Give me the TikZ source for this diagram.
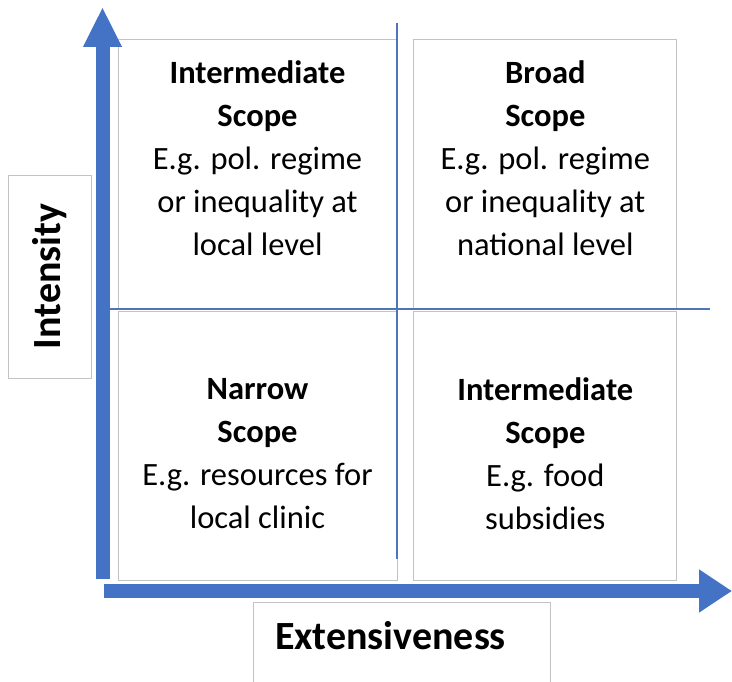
\documentclass[tikz,border=0pt]{standalone}
\usepackage{fontspec}
\setmainfont{Carlito}
\usetikzlibrary{arrows.meta,positioning}
\definecolor{axisblue}{HTML}{4472C4}
\definecolor{boxgray}{HTML}{C3C3C3}
\tikzset{
	auto,node distance =3pt and 16pt,semithick,
}

\begin{document}
\begin{tikzpicture}[
	x=1pt, y=-1pt,
	quad/.style={draw=boxgray, line width=0.8pt, inner sep=0pt, minimum height=269pt},
	scopetext/.style={align=center, font=\fontsize{32.5}{43}\selectfont},
	axislabel/.style={draw=boxgray, line width=0.8pt, inner sep=0pt, font=\fontsize{40}{48}\selectfont\bfseries},
	axis/.style={draw=axisblue, line width=14pt},
	cross/.style={draw=axisblue!80!gray, line width=1.2pt},
	]
	\useasboundingbox (0,0) rectangle (732,682);

	%quadrants
	\node[quad, minimum width=279pt] (1) at (257.5,173.5) {};
	\node[quad, minimum width=263pt] (2) [right = of 1] {};
	\node[quad, minimum width=279pt] (3) [below = of 1] {};
	\node[quad, minimum width=263pt] (4) [right = of 3] {};

	%scope texts
	\node[scopetext] (5) at ([yshift=15pt]1.center) {\textbf{Intermediate}\\\textbf{Scope}\\E.g. pol. regime\\or inequality at\\local level};
	\node[scopetext] (6) at ([yshift=15pt]2.center) {\textbf{Broad}\\\textbf{Scope}\\E.g. pol. regime\\or inequality at\\national level};
	\node[scopetext] (7) at ([yshift=-7pt]3.center) {\textbf{Narrow}\\\textbf{Scope}\\E.g. resources for\\local clinic};
	\node[scopetext] (8) at ([yshift=-7pt]4.center) {\textbf{Intermediate}\\\textbf{Scope}\\E.g. food\\subsidies};

	%axis labels
	\node[axislabel, rotate=90, minimum width=203pt, minimum height=83pt] (9) at (49.5,276.5) {Intensity};
	\node[axislabel, minimum width=297pt, minimum height=88pt] (10) at (401.5,646) {};
	\node[font=\fontsize{40}{48}\selectfont\bfseries] (11) at ([xshift=-11pt,yshift=10pt]10.center) {Extensiveness};

	%axes
	\coordinate (v0) at (102.5,579);
	\coordinate (v1) at (102.5,7);
	\coordinate (h0) at (104,591);
	\coordinate (h1) at (732,591);
	\path (v0) edge[axis, -{Triangle[length=40pt,width=36pt]}] (v1);
	\path (h0) edge[axis, -{Triangle[length=33pt,width=41pt]}] (h1);

	%cross lines
	\coordinate (c1) at (397,23);
	\coordinate (c2) at (397,559);
	\coordinate (c3) at (110,309);
	\coordinate (c4) at (710,309);
	\path (c1) edge[cross] (c2);
	\path (c3) edge[cross] (c4);

	\end{tikzpicture}
\end{document}
